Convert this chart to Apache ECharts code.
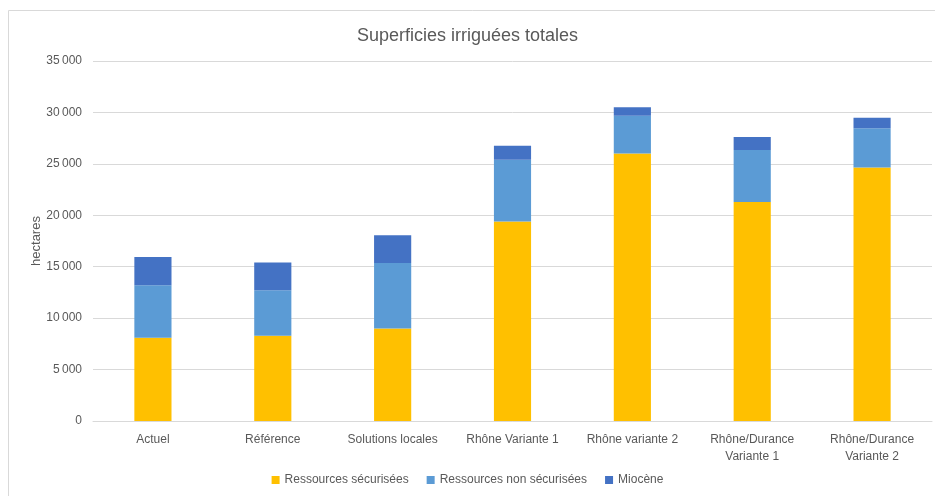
<!DOCTYPE html>
<html><head><meta charset="utf-8">
<script src="https://cdn.jsdelivr.net/npm/echarts@6/dist/echarts.min.js"></script>
<style>html,body{margin:0;padding:0;background:#fff}#c{width:935px;height:496px}</style>
</head><body><div id="c"></div>
<script>
const categories = ['Actuel','Référence','Solutions locales','Rhône Variante 1','Rhône variante 2','Rhône/Durance Variante 1','Rhône/Durance Variante 2'];
const securisees = [8100, 8300, 9000, 19400, 26000, 21300, 24650];
const nonSecurisees = [5100, 4400, 6350, 6000, 3670, 5050, 3800];
const miocene = [2750, 2700, 2700, 1350, 830, 1250, 1030];
const seriesNames = ['Ressources sécurisées','Ressources non sécurisées','Miocène'];
const yTicks = [0, 5000, 10000, 15000, 20000, 25000, 30000, 35000];

const font = '"Liberation Sans", Arial, sans-serif';
const chart = echarts.init(document.getElementById('c'), null, {renderer:'canvas'});
const colors = ['#FFC000','#5B9BD5','#4472C4'];
const data = [securisees, nonSecurisees, miocene];
chart.setOption({
  animation:false,
  textStyle:{fontFamily:font},
  title:{text:'Superficies irriguées totales', left:'center', top:22, textStyle:{fontFamily:font, fontSize:18, fontWeight:'normal', color:'#595959'}},
  graphic:[{type:'rect', shape:{x:8.5,y:10.5,width:940,height:500}, style:{fill:'none', stroke:'#d9d9d9', lineWidth:1}, silent:true}],
  grid:{left:93, right:3, top:61, bottom:75, containLabel:false},
  legend:{bottom:5, left:'center', itemWidth:8, itemHeight:8, itemGap:18, icon:'rect', textStyle:{fontSize:12, color:'#595959', fontFamily:font}, data:seriesNames},
  xAxis:{type:'category', data:categories,
    axisLine:{lineStyle:{color:'#d9d9d9'}}, axisTick:{show:false},
    axisLabel:{color:'#595959', fontSize:12, margin:10, lineHeight:17, interval:0,
      formatter:v=>v.indexOf('/')>=0 ? v.replace(' Variante','\nVariante') : v}},
  yAxis:{type:'value', min:yTicks[0], max:yTicks[yTicks.length-1], interval:yTicks[1]-yTicks[0],
    name:'hectares', nameLocation:'middle', nameGap:50, nameRotate:90, nameMoveOverlap:false,
    nameTextStyle:{color:'#595959', fontSize:13, fontFamily:font},
    axisLine:{show:false}, axisTick:{show:false},
    splitLine:{lineStyle:{color:'#d9d9d9'}},
    axisLabel:{color:'#595959', fontSize:12, margin:11,
      formatter:v=>v>=1000 ? Math.floor(v/1000)+'\u202f'+String(v%1000).padStart(3,'0') : String(v)}},
  series: seriesNames.map((n,i)=>({name:n, type:'bar', stack:'total', data:data[i], barWidth:'31%', itemStyle:{color:colors[i]}}))
});
</script></body></html>
